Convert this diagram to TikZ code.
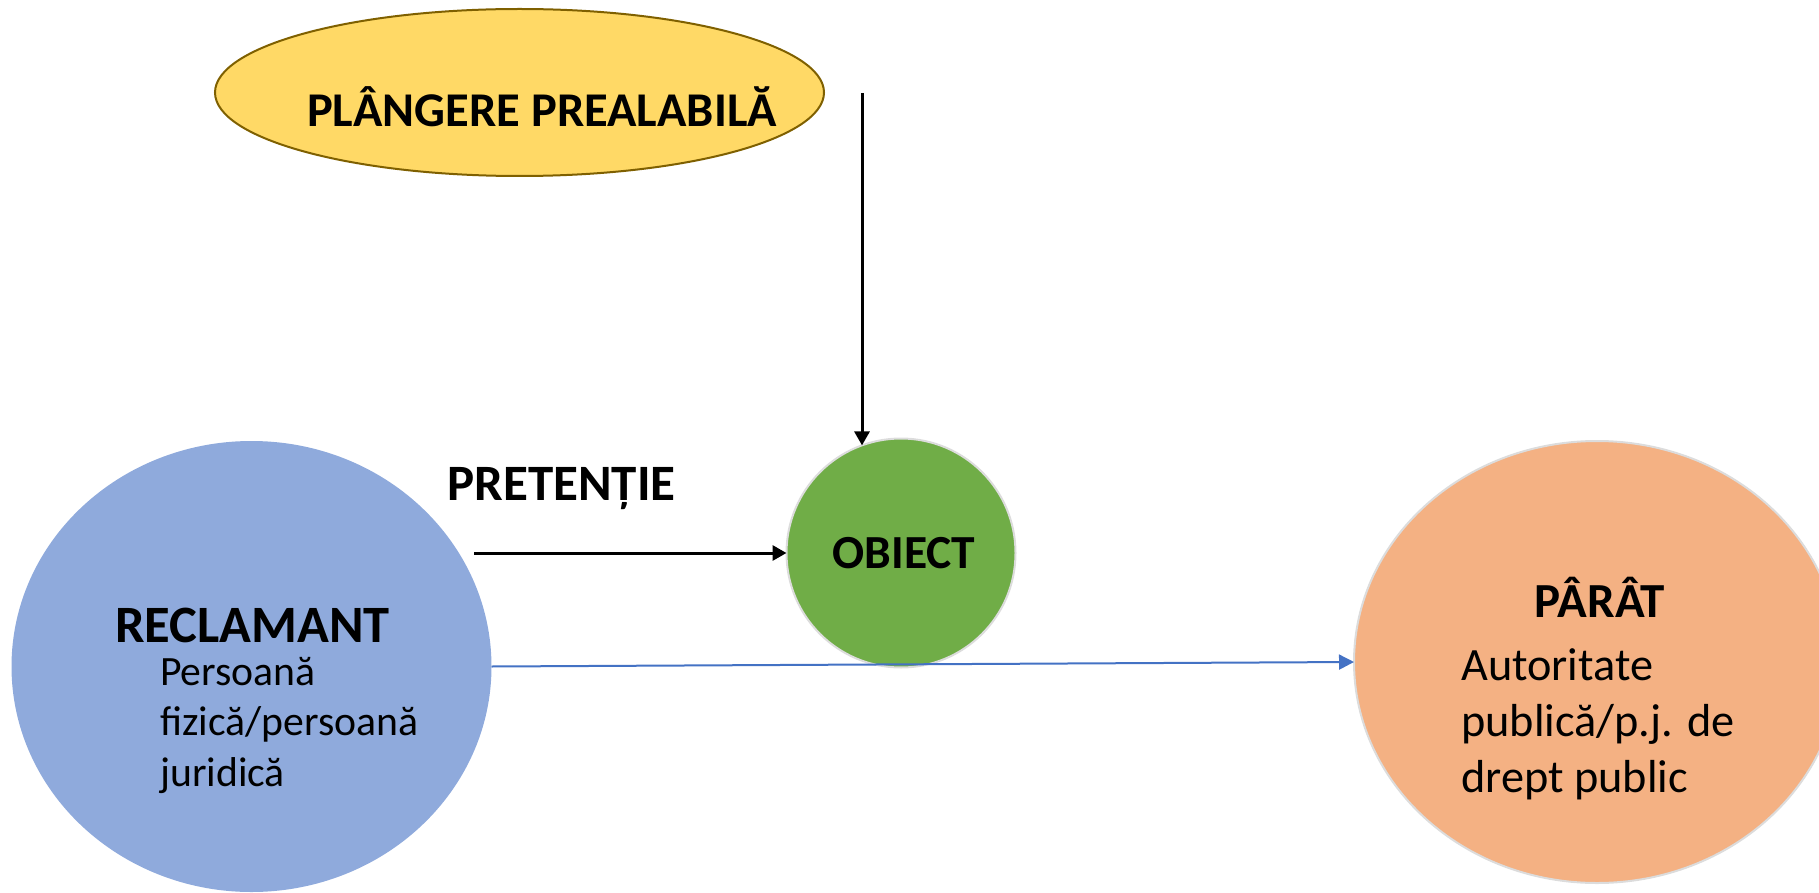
\documentclass[tikz,border=0pt]{standalone}
\usepackage{fontspec}
\setmainfont{Carlito}
\usetikzlibrary{arrows.meta,shapes.geometric}
\definecolor{yel}{HTML}{FFD966}
\definecolor{yelline}{HTML}{7F6000}
\definecolor{blu}{HTML}{8FAADC}
\definecolor{grn}{HTML}{70AD47}
\definecolor{org}{HTML}{F4B183}
\definecolor{arrblue}{HTML}{4472C4}
\definecolor{rim}{HTML}{DCDCDC}
\begin{document}
\begin{tikzpicture}[x=1pt,y=-1pt,
  blob/.style={ellipse, inner sep=0pt, outer sep=0pt},
  lbl/.style={inner sep=0pt, anchor=base},
  blackarrow/.style={draw=black, line width=3pt, -{Triangle[length=14pt,width=15pt]}},
  bluearrow/.style={draw=arrblue, line width=2pt, -{Triangle[length=15pt,width=15pt]}}]
\useasboundingbox (0,0) rectangle (1819,893);
\begin{scope}
\clip (0,0) rectangle (1819,893);
% shapes
\node[blob, fill=yel, draw=yelline, line width=2pt, minimum width=609pt, minimum height=167pt] (plangere) at (519.5,92.5) {};
\node[blob, fill=blu, minimum width=480pt, minimum height=451pt] (reclamant) at (251.5,666.5) {};
\node[blob, fill=org, draw=rim, line width=2pt, minimum width=486pt, minimum height=442pt] (parat) at (1597,662) {};
\node[blob, fill=grn, draw=rim, line width=2pt, minimum width=229pt, minimum height=229pt] (obiect) at (901,553) {};
\end{scope}
% connectors
\coordinate (vstart) at (862,93);
\coordinate (hstart) at (474,553);
\draw[blackarrow] (vstart) -- (vstart |- obiect.110);
\draw[blackarrow] (hstart) -- (obiect.west);
\draw[bluearrow] (reclamant.east) -- (parat.west);
% texts
\node[lbl, font=\bfseries\fontsize{48.5}{58}\selectfont] (tplangere) at (542,127) {PLÂNGERE PREALABILĂ};
\node[lbl, font=\bfseries\fontsize{51}{61}\selectfont] (tpretentie) at (561.5,500) {PRETENȚIE};
\node[lbl, font=\bfseries\fontsize{47.5}{57}\selectfont] (tobiect) at (904,568) {OBIECT};
\node[lbl, font=\bfseries\fontsize{52.5}{64}\selectfont] (treclamant) at (252.5,642) {RECLAMANT};
\node[lbl, font=\bfseries\fontsize{49}{59}\selectfont] (tparat) at (1600,617) {PÂRÂT};
\node[inner sep=0pt, anchor=base west, font=\fontsize{41.7}{50.8}\selectfont] (treclamantsub) at (160,685)
  {\begin{tabular}[t]{@{}l@{}}Persoană\\fizică/persoană\\juridică\end{tabular}};
\node[inner sep=0pt, anchor=base west, font=\fontsize{46.3}{56}\selectfont] (tparatsub) at (1461,680)
  {\begin{tabular}[t]{@{}l@{}}Autoritate\\publică/p.j. de\\drept public\end{tabular}};
\end{tikzpicture}
\end{document}
